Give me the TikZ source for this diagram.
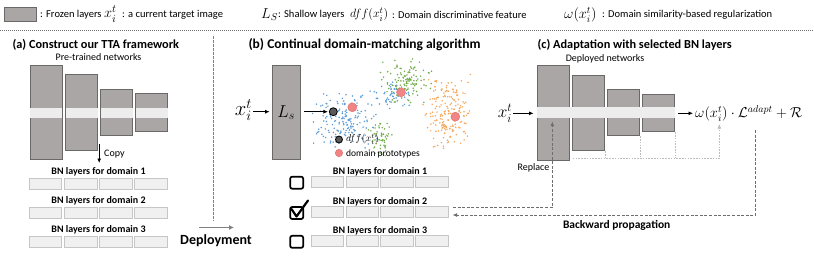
\documentclass[tikz,border=0pt]{standalone}
\usepackage{amsmath}
\usepackage{fontspec}
\setmainfont{Carlito}
\usetikzlibrary{arrows.meta}
\definecolor{frozen}{HTML}{AAA6A6}
\definecolor{frozenln}{HTML}{6A6868}
\definecolor{band}{HTML}{EDEDED}
\definecolor{bncell}{HTML}{F0F0F0}
\definecolor{bnline}{HTML}{C6C6C6}
\definecolor{dashgray}{HTML}{6E6E6E}
\definecolor{gradgray}{HTML}{BDBDBD}
\definecolor{ptblue}{HTML}{5B9BD5}
\definecolor{ptgreen}{HTML}{70AD47}
\definecolor{ptorange}{HTML}{F5A75A}
\definecolor{protofill}{HTML}{F08585}
\definecolor{protoline}{HTML}{E06A6A}
\definecolor{featfill}{HTML}{5A5A5A}
\begin{document}
\begin{tikzpicture}[x=1pt, y=-1pt, font=\fontsize{10.5}{12}\selectfont,
  frz/.style={draw=frozenln, fill=frozen, line width=0.9pt, inner sep=0pt, minimum width=32.4pt},
  bnc/.style={draw=bnline, fill=bncell, line width=0.6pt, inner sep=0pt, minimum width=32.5pt, minimum height=11pt},
  bnlbl/.style={font=\fontsize{10}{11}\selectfont\bfseries, inner sep=1pt},
  ttl/.style={font=\fontsize{12.3}{14}\selectfont\bfseries, anchor=west},
  sml/.style={font=\fontsize{10}{11}\selectfont, inner sep=1pt},
  key/.style={anchor=west, inner sep=0pt},
  arr/.style={-{Latex[length=4.5pt,width=4pt]}, line width=0.8pt},
  dsh/.style={draw=dashgray, dash pattern=on 3pt off 1.6pt, line width=0.9pt},
  grd/.style={draw=gradgray, dash pattern=on 1.6pt off 1.2pt, line width=0.7pt},
  chk/.style={draw=black, line width=1.7pt, rounded corners=2pt, minimum width=13pt, minimum height=12pt, inner sep=0pt},
  proto/.style={circle, fill=protofill, draw=protoline, line width=0.4pt, minimum size=9pt, inner sep=0pt},
  feat/.style={circle, fill=featfill, draw=black, line width=0.8pt, minimum size=8pt, inner sep=0pt}]
\useasboundingbox (0,0) rectangle (814,258);
% legend row
\node[draw=frozenln, fill=frozen, line width=0.9pt, inner sep=0pt, minimum width=32.7pt, minimum height=14.4pt] (keyfrz) at (20.3,14.5) {};
\node[key] (keyfrzt) at (40,14.5) {: Frozen layers};
\node[key, font=\fontsize{15}{16}\selectfont] (keyx) at (104,14) {$x_i^t$};
\node[key] (keyxt) at (122,14.5) {: a current target image};
\node[key, font=\fontsize{14}{15}\selectfont] (keyls) at (261,14.5) {$L_S$};
\node[key] (keylst) at (278,14.5) {: Shallow layers};
\node[key, font=\fontsize{12.5}{14}\selectfont] (keydff) at (350,14.5) {$dff(x_i^t)$};
\node[key] (keydfft) at (392,14.5) {: Domain discriminative feature};
\node[key, font=\fontsize{14.5}{16}\selectfont] (keyw) at (564,14.5) {$\omega(x_i^t)$};
\node[key] (keywt) at (602,14.5) {: Domain similarity-based regularization};
\draw[draw=dashgray, dash pattern=on 1.2pt off 0.8pt, line width=0.8pt] (0,30.7) -- (814,30.7);
% (a) TTA framework
\node[ttl] (ttla) at (9,45) {(a) Construct our TTA framework};
\node[sml] (pretr) at (98.5,57.5) {Pre-trained networks};
\foreach \i/\x/\h in {1/46.2/94, 2/81.5/75.3, 3/116.5/46.4, 4/151.5/38} {
  \node[frz, minimum height=\h] (a\i) at (\x,112.5) {};
  \fill[band] (\x-16,108.3) rectangle (\x+16,117.7); }
\coordinate (cpy1) at (99.2,144);
\coordinate (cpy2) at (99.2,163);
\draw[arr] (cpy1) -- (cpy2);
\node[sml, anchor=west, inner sep=0pt] (cpyt) at (104,154) {Copy};
\foreach \r/\y in {1/183.8, 2/213.2, 3/242} {
  \node[bnlbl] (albl\r) at (98.5,\y-12.2) {BN layers for domain \r};
  \foreach \c in {1,...,4}
    \node[bnc] (abn\r\c) at (45.5+35.1*\c-35.1,\y) {}; }
\coordinate (div1) at (213,36);
\coordinate (div2) at (213,221);
\draw[draw=gray, dash pattern=on 2.5pt off 1.5pt, line width=0.8pt] (div1) -- (div2);
\coordinate (dep1) at (199,227.5);
\coordinate (dep2) at (234,227.5);
\draw[draw=gray, line width=1.6pt, -{Latex[length=5pt,width=5pt]}] (dep1) -- (dep2);
\node[font=\fontsize{14}{16}\selectfont\bfseries, inner sep=1pt] (dept) at (216,241) {Deployment};
% (b) domain matching
\node[ttl, font=\fontsize{13.5}{15}\selectfont\bfseries] (ttlb) at (245,45) {(b) Continual domain-matching algorithm};
\node[font=\fontsize{20}{22}\selectfont, inner sep=1pt] (xm) at (243.5,110) {$x_i^t$};
\node[frz, minimum width=28.3pt, minimum height=93.6pt, font=\fontsize{18}{20}\selectfont] (ls) at (286.2,112.5) {$L_s$};
\draw[arr, shorten >=2pt] (xm.east |- 0,111.7) -- (ls.west |- 0,111.7);
\pgfmathsetseed{42}
\foreach \cx/\cy/\sx/\sy/\n/\col in {345/120/34/30/170/ptblue, 392/96/24/15/60/ptblue, 405/80/28/25/120/ptgreen, 380/137/14/21/55/ptgreen, 448/113/27/40/190/ptorange} {
  \foreach \k in {1,...,\n} {
    \pgfmathsetmacro\px{\cx+\sx*(rand+rand)/2}
    \pgfmathsetmacro\py{\cy+\sy*(rand+rand)/2}
    \fill[\col] (\px,\py) circle (0.85pt); } }
\node[feat] (dff) at (333.3,111.7) {};
\draw[arr, shorten <=3pt, shorten >=1pt] (ls.east |- dff) -- (dff);
\node[proto] (pr1) at (352.3,107.3) {};
\node[proto] (pr2) at (401,92.3) {};
\node[proto] (pr3) at (455.3,116.7) {};
\node[feat, minimum size=7pt] (keyfeat) at (339,139.5) {};
\node[anchor=west, inner sep=0pt, font=\fontsize{10}{11}\selectfont] (keyfeatt) at (346,139) {$dff(x_i^t)$};
\node[proto, minimum size=7.5pt] (keyproto) at (339,153) {};
\node[sml, anchor=west, inner sep=0pt, font=\fontsize{9.5}{10}\selectfont] (keyprotot) at (346,153.5) {domain prototypes};
\foreach \r/\y in {1/181.7, 2/212, 3/240.8} {
  \node[bnlbl] (blbl\r) at (380,\y-10.3) {BN layers for domain \r};
  \node[chk] (chk\r) at (296.7,\y+1) {};
  \foreach \c in {1,...,4}
    \node[bnc] (bbn\r\c) at (327.3+34.8*\c-34.8,\y) {}; }
\draw[line width=2.2pt, line join=round, line cap=round] (291.5,209) -- (296.5,216.5) -- (308,200.5);
% (c) adaptation
\node[ttl] (ttlc) at (534,45) {(c) Adaptation with selected BN layers};
\node[sml] (deplt) at (605,59.3) {Deployed networks};
\foreach \i/\x/\h in {1/553.2/94.3, 2/588.5/75.7, 3/623.5/46, 4/658.5/37.7}
  \node[frz, minimum height=\h] (c\i) at (\x,112.8) {};
\fill[band] (537.2,107.3) rectangle (674.7,118.3);
\node[font=\fontsize{17}{19}\selectfont, inner sep=1pt] (xr) at (505,113) {$x_i^t$};
\draw[arr, shorten >=3pt] (xr.east |- 0,113.3) -- (c1.west |- 0,113.3);
\node[anchor=west, inner sep=0pt, font=\fontsize{14.5}{16}\selectfont] (loss) at (695,113.3) {$\omega(x_i^t)\cdot\mathcal{L}^{adapt}+\mathcal{R}$};
\draw[arr, shorten <=3pt, shorten >=2pt] (c4.east |- 0,113.3) -- (loss.west |- 0,113.3);
\coordinate (gst) at (572.7,158.3);
\coordinate (gend) at (719.3,158.3);
\coordinate (gtip) at (719.3,124);
\foreach \i in {2,3,4}
  \draw[grd] (c\i.south east) -- (c\i.south east |- gend);
\draw[grd, -{Latex[length=4.5pt,width=4pt]}] (gst) -- (gend) -- (gtip);
\coordinate (rp0) at (453,207.5);
\coordinate (rp1) at (552.3,207.5);
\coordinate (rp2) at (552.3,121.5);
\draw[dsh, -{Latex[length=4.5pt,width=4pt]}] (rp0) -- (rp1) -- (rp2);
\node[sml, anchor=east] (repl) at (550.5,168) {Replace};
\coordinate (bw0) at (755.7,130);
\coordinate (bw1) at (755.7,215);
\coordinate (bw2) at (452.5,215);
\draw[dsh, -{Latex[length=4.5pt,width=4pt]}] (bw0) -- (bw1) -- (bw2);
\node[font=\fontsize{11.5}{13}\selectfont\bfseries, inner sep=1pt] (bwt) at (616.7,225.5) {Backward propagation};
\end{tikzpicture}
\end{document}
